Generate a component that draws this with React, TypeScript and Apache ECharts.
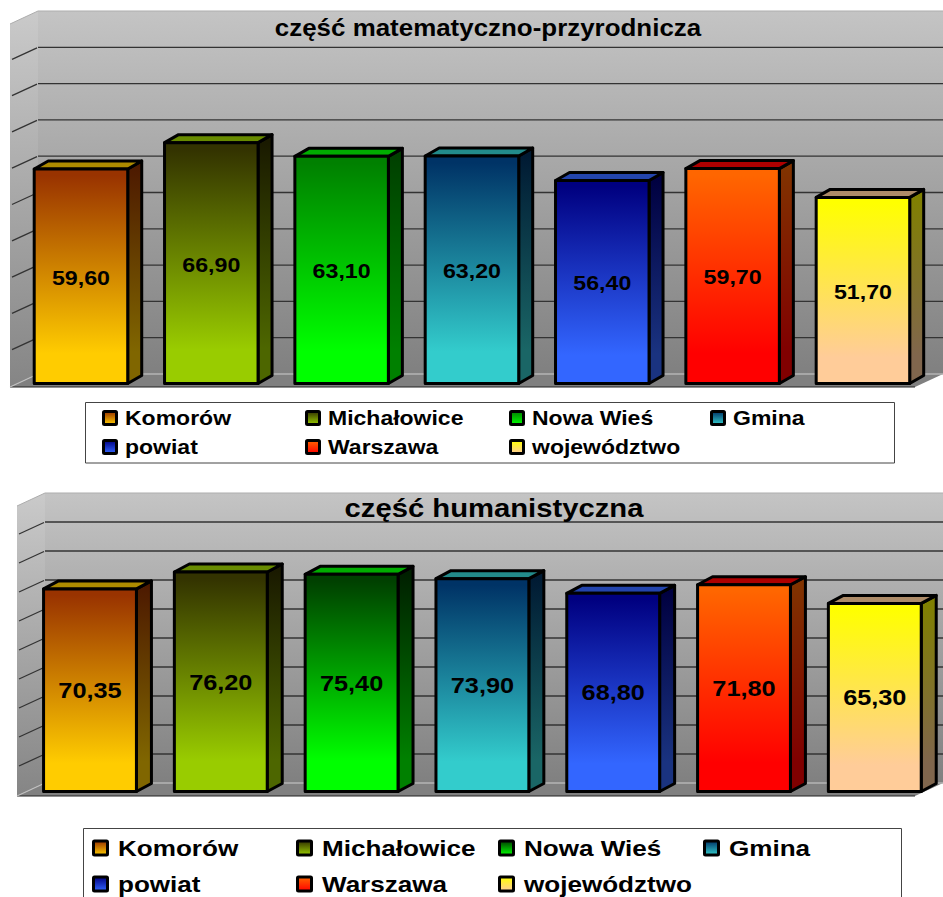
import React, { useEffect, useRef } from "react";
import * as echarts from "echarts";

const categories = ["Komorów", "Michałowice", "Nowa Wieś", "Gmina", "powiat", "Warszawa", "województwo"];
const mathValues = [59.6, 66.9, 63.1, 63.2, 56.4, 59.7, 51.7];
const humanValues = [70.35, 76.2, 75.4, 73.9, 68.8, 71.8, 65.3];
const mathLabels = ["59,60", "66,90", "63,10", "63,20", "56,40", "59,70", "51,70"];
const humanLabels = ["70,35", "76,20", "75,40", "73,90", "68,80", "71,80", "65,30"];
const wallTicks = [0, 10, 20, 30, 40, 50, 60, 70, 80, 90];
const topColors1 = ["#993300", "#333300", "#008000", "#003366", "#000080", "#FF6600", "#FFFF00"];
const topColors2 = ["#993300", "#333300", "#004000", "#003366", "#000080", "#FF6600", "#FFFF00"];
const bottomColors = ["#FFCC00", "#99CC00", "#00FF00", "#33CCCC", "#3366FF", "#FF0000", "#FFCC99"];
const FONT = '"Liberation Sans", Arial, sans-serif';

function shade(hex: string, k: number) {
  const n = parseInt(hex.slice(1), 16);
  const c = (v: number) => Math.round(v * k);
  return `rgb(${c((n >> 16) & 255)},${c((n >> 8) & 255)},${c(n & 255)})`;
}
const vgrad = (a: string, b: string, s = 0, e = 1) =>
  new echarts.graphic.LinearGradient(0, 0, 0, 1, [
    { offset: s, color: a },
    { offset: e, color: b },
  ]);

const panels = [
  {
    values: mathValues, labels: mathLabels, tops: topColors1,
    bar: { left: 15.8, width: 912.3, top: 23.5, height: 360 },
    wall: { left: 38, width: 908, top: 11, height: 363 },
    sideDx: 28, sideDy: 13, depthDx: 14, depthDy: 8, barRatio: 0.7175,
    labelSize: 20, labelScale: 1.16, labelDy: 1.5,
    title: { text: "część matematyczno-przyrodnicza", x: 488, y: 28, size: 23, scale: 1.127 },
    legend: {
      box: [85.5, 402.5, 809, 60.5], xs: [102, 305, 509, 710], textGap: 23, rows: [418, 447],
      swatch: 13, fontSize: 20, scale: 1.15,
    },
  },
  {
    values: humanValues, labels: humanLabels, tops: topColors2,
    bar: { left: 24.6, width: 915.6, top: 503.5, height: 288 },
    wall: { left: 45, width: 918, top: 493, height: 290 },
    sideDx: 28, sideDy: 13, depthDx: 15, depthDy: 8, barRatio: 0.71,
    labelSize: 22, labelScale: 1.15, labelDy: 0.5,
    title: { text: "część humanistyczna", x: 494, y: 508, size: 25, scale: 1.17 },
    legend: {
      box: [83.5, 828.5, 818, 75], xs: [92, 296, 498, 703], textGap: 26, rows: [848, 884],
      swatch: 14, fontSize: 22, scale: 1.185,
    },
  },
];

function wallSeries(p: any, idx: number) {
  return {
    type: "custom",
    name: "wall" + idx,
    xAxisIndex: idx * 2,
    yAxisIndex: idx * 2,
    silent: true,
    z: 1,
    data: wallTicks.map((t) => [0, t]),
    renderItem: (_: any, api: any) => {
      const v = api.value(1);
      const [x0, y] = api.coord([0, v]);
      const [x1] = api.coord([1, v]);
      const [, yTop] = api.coord([0, 100]);
      const dx = p.sideDx, dy = p.sideDy;
      const children: any[] = [];
      if (v === 0) {
        children.push(
          { type: "rect", shape: { x: x0, y: yTop, width: x1 - x0, height: y - yTop }, style: { fill: vgrad("#c4c4c4", "#808080") } },
          { type: "polygon", shape: { points: [[x0, yTop], [x0 - dx, yTop + dy], [x0 - dx, y + dy], [x0, y]] }, style: { fill: vgrad("#cacaca", "#858585") } },
          { type: "polygon", shape: { points: [[x0, y], [x1, y], [x1 - dx, y + dy], [x0 - dx, y + dy]] }, style: { fill: "#808080" } },
          { type: "line", shape: { x1: x0 - dx, y1: y + dy, x2: x1 - dx, y2: y + dy }, style: { stroke: "#222222", lineWidth: 1.2 } },
          { type: "line", shape: { x1: x0, y1: y, x2: x1, y2: y }, style: { stroke: "#b4b4b4", lineWidth: 1.5 } },
          { type: "line", shape: { x1: x0, y1: y, x2: x0 - dx, y2: y + dy }, style: { stroke: "#c0c0c0", lineWidth: 1.2 } },
          { type: "line", shape: { x1: x0, y1: yTop, x2: x1, y2: yTop }, style: { stroke: "#adadad", lineWidth: 1 } },
          { type: "line", shape: { x1: x0, y1: yTop, x2: x0 - dx, y2: yTop + dy }, style: { stroke: "#adadad", lineWidth: 1 } },
        );
      } else {
        const st = { stroke: "#333333", lineWidth: 1.3 };
        children.push(
          { type: "line", shape: { x1: x0, y1: y, x2: x1, y2: y }, style: st },
          { type: "line", shape: { x1: x0 - 1, y1: y + 0.5, x2: x0 - dx + 2, y2: y + dy - 1 }, style: st },
        );
      }
      return { type: "group", children };
    },
  };
}

function barSeries(p: any, idx: number) {
  return {
    type: "custom",
    name: "bars" + idx,
    xAxisIndex: idx * 2 + 1,
    yAxisIndex: idx * 2 + 1,
    silent: true,
    z: 3,
    data: p.values.map((v: number, i: number) => [i, v]),
    renderItem: (params: any, api: any) => {
      const i = params.dataIndex;
      const [cx, yT] = api.coord([api.value(0), api.value(1)]);
      const [, yB] = api.coord([api.value(0), 0]);
      const w = api.size([1, 0])[0] * p.barRatio;
      const l = cx - w / 2, r = cx + w / 2;
      const dx = p.depthDx, dy = p.depthDy;
      const top = p.tops[i], bot = bottomColors[i];
      const edge = { stroke: "#000000", lineWidth: 3, lineJoin: "round" };
      return {
        type: "group",
        children: [
          { type: "polygon", shape: { points: [[r, yT], [r + dx, yT - dy], [r + dx, yB - dy], [r, yB]] }, style: { fill: vgrad(shade(top, 0.5), shade(bot, 0.5), 0.03, 0.86), ...edge } },
          { type: "polygon", shape: { points: [[l, yT], [l + dx, yT - dy], [r + dx, yT - dy], [r, yT]] }, style: { fill: shade(bot, 0.68), ...edge } },
          { type: "rect", shape: { x: l, y: yT, width: w, height: yB - yT }, style: { fill: vgrad(top, bot, 0.03, 0.86), ...edge } },
          {
            type: "text", x: cx, y: (yT + yB) / 2 + p.labelDy, scaleX: p.labelScale,
            style: { text: p.labels[i], fontFamily: FONT, fontWeight: "bold", fontSize: p.labelSize, fill: "#000", textAlign: "center", textVerticalAlign: "middle" },
          },
        ],
      };
    },
  };
}

function legendGraphics(p: any) {
  const L = p.legend;
  const T = p.title;
  const els: any[] = [
    { type: "text", z: 8, x: T.x, y: T.y, scaleX: T.scale, style: { text: T.text, fontFamily: FONT, fontWeight: "bold", fontSize: T.size, fill: "#000", textAlign: "center", textVerticalAlign: "middle" } },
    { type: "rect", z: 10, shape: { x: L.box[0], y: L.box[1], width: L.box[2], height: L.box[3] }, style: { fill: "#fff", stroke: "#444", lineWidth: 1 } },
  ];
  categories.forEach((c, i) => {
    const row = i < 4 ? 0 : 1;
    const col = i < 4 ? i : i - 4;
    const x = L.xs[col] + 1.5, y = L.rows[row];
    const top = p.tops[i], bot = bottomColors[i];
    els.push(
      { type: "rect", z: 11, shape: { x, y: y - L.swatch / 2, width: L.swatch, height: L.swatch, r: 1 }, style: { fill: vgrad(top, bot), stroke: "#000", lineWidth: 3 } },
      { type: "text", z: 11, x: L.xs[col] + L.textGap, y, scaleX: L.scale, style: { text: c, fontFamily: FONT, fontWeight: "bold", fontSize: L.fontSize, fill: "#000", textAlign: "left", textVerticalAlign: "middle" } },
    );
  });
  return els;
}

export default function App() {
  const ref = useRef<HTMLDivElement>(null);
  useEffect(() => {
    const chart = echarts.init(ref.current!, undefined, { renderer: "svg" });
    const grids: any[] = [], xAxes: any[] = [], yAxes: any[] = [];
    panels.forEach((p, idx) => {
      grids.push({ ...p.wall, show: false }, { ...p.bar, show: false });
      xAxes.push(
        { type: "value", gridIndex: idx * 2, min: 0, max: 1, show: false },
        { type: "category", gridIndex: idx * 2 + 1, data: categories, show: false },
      );
      yAxes.push(
        { type: "value", gridIndex: idx * 2, min: 0, max: 100, interval: 10, show: false },
        { type: "value", gridIndex: idx * 2 + 1, min: 0, max: 100, interval: 10, show: false },
      );
    });
    chart.setOption({
      animation: false,
      backgroundColor: "#ffffff",
      grid: grids,
      xAxis: xAxes,
      yAxis: yAxes,
      series: panels.flatMap((p, i) => [wallSeries(p, i), barSeries(p, i)]),
      graphic: { elements: panels.flatMap((p) => legendGraphics(p)) },
    });
    return () => chart.dispose();
  }, []);
  return <div ref={ref} style={{ position: "absolute", left: 0, top: 0, width: 943, height: 897 }} />;
}
